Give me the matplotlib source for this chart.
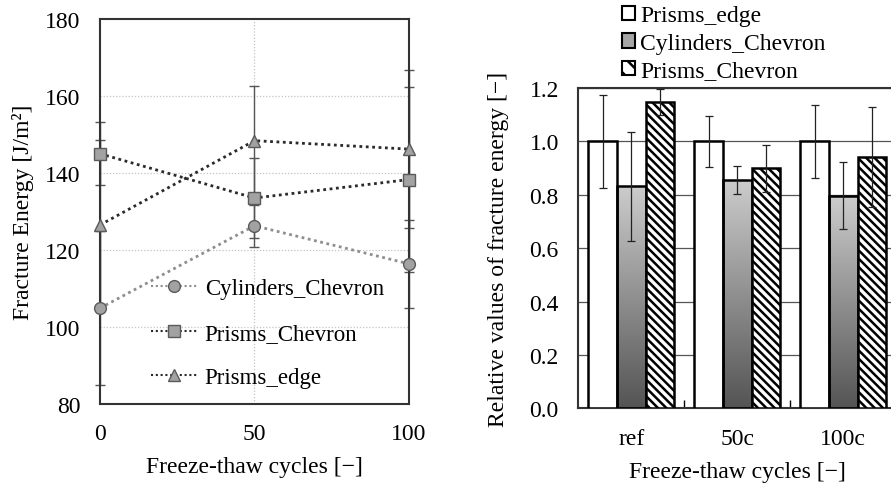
import numpy as np
import matplotlib
matplotlib.use("Agg")
import matplotlib.pyplot as plt
from matplotlib.patches import Patch
from matplotlib.lines import Line2D

plt.rcParams['font.family'] = ['Liberation Serif', 'DejaVu Serif']
plt.rcParams['hatch.linewidth'] = 1.8
plt.rcParams['hatch.color'] = 'black'

# ---------------- data: left chart ----------------
cycles = [0, 50, 100]
cyl_chevron = [104.9, 126.3, 116.4]
cyl_chevron_err = [20.0, 5.5, 11.5]
prisms_chevron = [145.0, 133.5, 138.3]
prisms_chevron_err = [8.2, 10.3, 24.0]
prisms_edge = [126.5, 148.4, 146.2]
prisms_edge_err = [22.0, 14.2, 20.6]

# ---------------- data: right chart ----------------
groups = ['ref', '50c', '100c']
rel_edge = [1.0, 1.0, 1.0]
rel_edge_err = [0.174, 0.095, 0.137]
rel_cyl = [0.832, 0.855, 0.797]
rel_cyl_err = [0.205, 0.051, 0.124]
rel_pch = [1.148, 0.900, 0.942]
rel_pch_err = [0.05, 0.088, 0.186]

FS = 17
fig = plt.figure(figsize=(8.91, 4.85), dpi=100)

# ================= left axes =================
ax1 = fig.add_axes([100/891, 1-405/485, 309/891, 385/485])
ax1.set_xlim(0, 100)
ax1.set_ylim(80, 180)
ax1.set_xticks([0, 50, 100])
ax1.set_yticks([80, 100, 120, 140, 160, 180])
ax1.tick_params(length=0, labelsize=FS, pad=14)
for s in ax1.spines.values():
    s.set_linewidth(1.5)
    s.set_color('#333333')
for yv in [100, 120, 140, 160]:
    ax1.axhline(yv, color='#c4c4c4', lw=0.9, ls=(0, (1, 1.5)), zorder=0.5)
ax1.axvline(50, color='#c4c4c4', lw=0.9, ls=(0, (1, 1.5)), zorder=0.5)

mk = dict(markersize=8.5, markerfacecolor='#a2a2a2', markeredgecolor='#5a5a5a',
          markeredgewidth=1.0)
dot = (0, (1, 1.3))
series = [
    (cyl_chevron, cyl_chevron_err, 'o', '#8e8e8e', 'Cylinders_Chevron'),
    (prisms_chevron, prisms_chevron_err, 's', '#2a2a2a', 'Prisms_Chevron'),
    (prisms_edge, prisms_edge_err, '^', '#2a2a2a', 'Prisms_edge'),
]
handles = []
for vals, errs, m, lc, lab in series:
    eb = ax1.errorbar(cycles, vals, yerr=errs, fmt='none', ecolor='#555555',
                      elinewidth=1.0, capsize=3.3, capthick=1.0, zorder=2)
    for art in eb.lines[1]:
        art.set_clip_on(False)
    for art in eb.lines[2]:
        art.set_clip_on(False)
    ax1.plot(cycles, vals, ls=dot, lw=2.0, color=lc, zorder=3)
    ax1.plot(cycles, vals, ls='none', marker=m, zorder=4, clip_on=False, **mk)
    handles.append(Line2D([], [], ls=dot, lw=1.5, color=lc, marker=m,
                          markersize=8.5, markerfacecolor='#a2a2a2',
                          markeredgecolor='#5a5a5a', label=lab))
ax1.legend(handles=handles, loc='lower left', bbox_to_anchor=(0.135, 0.017),
           frameon=False, fontsize=16.5, handlelength=2.0, handletextpad=0.35,
           labelspacing=1.02, borderaxespad=0)
ax1.set_xlabel('Freeze-thaw cycles [−]', fontsize=FS, labelpad=8)
ax1.set_ylabel('Fracture Energy [J/m²]', fontsize=FS, labelpad=8)

# ================= right axes =================
ax2 = fig.add_axes([578.3/891, 1-409.3/485, 318/891, 320.3/485])
x = np.arange(len(groups))
w = 0.27
ax2.set_axisbelow(True)
ax2.yaxis.grid(True, color='#555555', lw=0.9)
ax2.set_xlim(-0.5, 2.5)
ax2.set_ylim(0, 1.2)

bedge = ax2.bar(x - w, rel_edge, w, facecolor='white', edgecolor='black',
                lw=1.8, zorder=3)
bcyl = ax2.bar(x, rel_cyl, w, facecolor='none', edgecolor='black', lw=1.8,
               zorder=3)
bpch = ax2.bar(x + w, rel_pch, w, facecolor='white', edgecolor='black',
               lw=1.8, hatch='\\\\\\\\', zorder=3)
grad = np.linspace(0.80, 0.33, 256).reshape(-1, 1)
for r in bcyl:
    im = ax2.imshow(grad, cmap='gray', vmin=0, vmax=1, aspect='auto',
                    origin='upper',
                    extent=(r.get_x(), r.get_x() + r.get_width(), 0, r.get_height()),
                    zorder=2.5, interpolation='bilinear')
    im.set_clip_path(r)
ax2.set_xlim(-0.5, 2.5)
ax2.set_ylim(0, 1.2)

for pos, vals, errs in [(x - w, rel_edge, rel_edge_err), (x, rel_cyl, rel_cyl_err),
                        (x + w, rel_pch, rel_pch_err)]:
    eb = ax2.errorbar(pos, vals, yerr=errs, fmt='none', ecolor='#222222',
                      elinewidth=0.9, capsize=3.0, capthick=0.9, zorder=4)
    for art in eb.lines[2]:
        art.set_clip_on(False)

ax2.set_xticks(x)
ax2.set_xticklabels(groups)
ax2.set_xticks([0.5, 1.5], minor=True)
ax2.tick_params(axis='x', which='major', length=0, labelsize=FS, pad=14)
ax2.tick_params(axis='x', which='minor', direction='in', length=6, width=1.0)
ax2.set_yticks([0, 0.2, 0.4, 0.6, 0.8, 1.0, 1.2])
ax2.set_yticklabels(['0.0', '0.2', '0.4', '0.6', '0.8', '1.0', '1.2'])
ax2.tick_params(axis='y', length=0, labelsize=FS, pad=14)
for s in ax2.spines.values():
    s.set_linewidth(1.5)
    s.set_color('#333333')
ax2.set_xlabel('Freeze-thaw cycles [−]', fontsize=FS, labelpad=9)
ax2.set_ylabel('Relative values of fracture energy [−]', fontsize=FS, labelpad=15)

lh = [Patch(facecolor='white', edgecolor='black', lw=1.5, label='Prisms_edge'),
      Patch(facecolor='#a6a6a6', edgecolor='black', lw=1.5, label='Cylinders_Chevron'),
      Patch(facecolor='white', edgecolor='black', lw=1.5, hatch='\\\\', label='Prisms_Chevron')]
fig.legend(handles=lh, loc='upper left', bbox_to_anchor=(613/891, 1 + 3/485),
           frameon=False, fontsize=FS, handlelength=0.55, handleheight=0.55,
           handletextpad=0.2, labelspacing=0.27, borderaxespad=0)

fig.savefig('out.png', dpi=100)
